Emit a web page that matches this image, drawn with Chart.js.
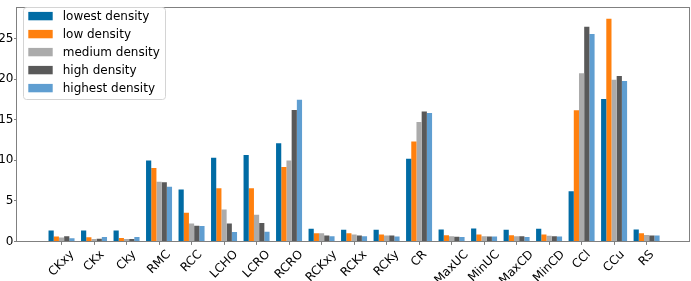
<!DOCTYPE html>
<html>
<head>
<meta charset="utf-8">
<script src="https://cdn.jsdelivr.net/npm/chart.js@4.4.1/dist/chart.umd.min.js"></script>
<style>
  html, body { margin: 0; padding: 0; background: #fff; }
  canvas { display: block; }
</style>
</head>
<body>
<canvas id="chart" width="691" height="281"></canvas>
<script>
// Categorías y valores
const categories = ['CKxy', 'CKx', 'Cky', 'RMC', 'RCC', 'LCHO', 'LCRO', 'RCRO', 'RCKxy', 'RCKx',
    'RCKy', 'CR', 'MaxUC', 'MinUC', 'MaxCD', 'MinCD', 'CCl', 'CCu', 'RS'];
const seriesNames = ['lowest density', 'low density', 'medium density', 'high density', 'highest density'];
const lowest = [1.33, 1.33, 1.33, 9.97, 6.39, 10.3, 10.65, 12.09, 1.56, 1.44, 1.44, 10.2, 1.48, 1.6, 1.44, 1.56, 6.19, 17.55, 1.48];
const low = [0.6, 0.5, 0.42, 9.06, 3.52, 6.55, 6.55, 9.18, 1.0, 1.0, 0.84, 12.33, 0.77, 0.84, 0.77, 0.84, 16.16, 27.44, 1.0];
const medium = [0.48, 0.29, 0.29, 7.35, 2.2, 3.92, 3.28, 9.98, 1.0, 0.84, 0.73, 14.72, 0.65, 0.65, 0.65, 0.69, 20.74, 19.94, 0.8];
const high = [0.64, 0.33, 0.29, 7.3, 1.92, 2.2, 2.28, 16.2, 0.73, 0.73, 0.73, 16.0, 0.57, 0.61, 0.65, 0.65, 26.45, 20.38, 0.73];
const highest = [0.4, 0.53, 0.53, 6.75, 1.9, 1.17, 1.2, 17.47, 0.65, 0.65, 0.61, 15.84, 0.53, 0.61, 0.53, 0.61, 25.57, 19.78, 0.73];
const yTicks = [0, 5, 10, 15, 20, 25];

const colors = ['#006BA4', '#FF800E', '#ABABAB', '#595959', '#5F9ED1'];
const FONT = '12px "DejaVu Sans"';
const SPINE = '#808080';

const allSeries = [lowest, low, medium, high, highest];
const datasets = allSeries.map((values, s) => ({
    label: seriesNames[s],
    data: values.map((v, i) => ({ x: i, y: v })),
    backgroundColor: colors[s],
    borderWidth: 0,
    categoryPercentage: 0.8,
    barPercentage: 1.0,
}));

// Marco del área, etiquetas rotadas y leyenda estilo matplotlib
const framePlugin = {
    id: 'frame',
    afterDatasetsDraw(chart) {
        const { ctx, chartArea: a } = chart;
        ctx.save();
        ctx.strokeStyle = SPINE;
        ctx.lineWidth = 1;
        const l = Math.floor(a.left) - 0.5, r = Math.floor(a.right) + 0.5;
        const t = Math.floor(a.top) + 0.5, b = Math.floor(a.bottom) + 0.5;
        ctx.strokeRect(l, t, r - l, b - t);
        ctx.restore();
    },
    afterDraw(chart) {
        const { ctx, chartArea: a } = chart;
        const xs = chart.scales.x;
        ctx.save();
        ctx.font = FONT;
        ctx.fillStyle = '#000';

        // etiquetas del eje x, 45 grados, centradas en la marca
        const top = a.bottom + 7;
        categories.forEach((label, i) => {
            const x = xs.getPixelForValue(i);
            const w = ctx.measureText(label).width;
            const side = (w + 12) * Math.SQRT1_2;
            ctx.save();
            ctx.translate(x, top + side / 2);
            ctx.rotate(-Math.PI / 4);
            ctx.textAlign = 'center';
            ctx.textBaseline = 'alphabetic';
            ctx.fillText(label, 0, 3.2);
            ctx.restore();
        });

        // leyenda
        ctx.beginPath();
        ctx.roundRect(23.5, 7.5, 142, 92, 3);
        ctx.fillStyle = 'rgba(255,255,255,0.8)';
        ctx.fill();
        ctx.strokeStyle = '#d4d4d4';
        ctx.lineWidth = 1;
        ctx.stroke();
        chart.data.datasets.forEach((ds, i) => {
            const cy = 16.1 + i * 18;
            ctx.fillStyle = ds.backgroundColor;
            ctx.fillRect(28.3, cy - 4.2, 24.4, 8.4);
            ctx.fillStyle = '#000';
            ctx.textAlign = 'left';
            ctx.textBaseline = 'alphabetic';
            ctx.fillText(ds.label, 62.7, cy + 3.8);
        });
        ctx.restore();
    },
};

new Chart(document.getElementById('chart'), {
    type: 'bar',
    data: { datasets },
    options: {
        responsive: false,
        animation: false,
        layout: { padding: { top: 0.5, right: 1.5, bottom: 0, left: 0 } },
        plugins: { legend: { display: false }, tooltip: { enabled: false } },
        scales: {
            x: {
                type: 'linear',
                offset: false,
                min: -1.37,
                max: 19.32,
                grid: { offset: false, drawOnChartArea: false, drawTicks: true, tickLength: 3.5, color: SPINE },
                border: { display: false },
                ticks: { display: false, stepSize: 1, includeBounds: false },
                afterBuildTicks: (s) => {
                    s.ticks = categories.map((c, i) => ({ value: i }));
                },
                afterFit: (s) => { s.height = 39.6; },
            },
            y: {
                min: 0,
                max: 28.81,
                grid: { drawOnChartArea: false, drawTicks: true, tickLength: 3, color: SPINE },
                border: { display: false },
                ticks: {
                    stepSize: 5,
                    includeBounds: false,
                    padding: 0.5,
                    color: '#000',
                    font: { family: 'DejaVu Sans', size: 12 },
                },
                afterBuildTicks: (s) => {
                    s.ticks = yTicks.map(v => ({ value: v }));
                },
                afterFit: (s) => { s.width = 17; },
            },
        },
    },
    plugins: [framePlugin],
});
</script>
</body>
</html>
